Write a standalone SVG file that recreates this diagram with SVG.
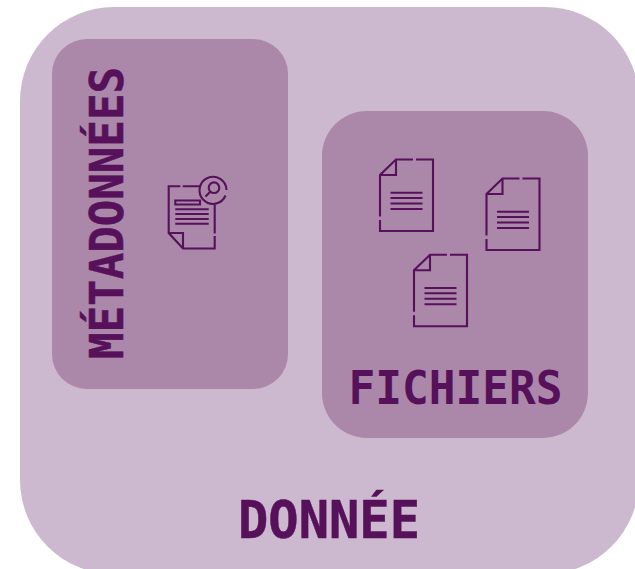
<svg xmlns="http://www.w3.org/2000/svg" width="635" height="569" viewBox="0 0 635 569">
<style>
.t{font-family:"DejaVu Sans Mono","Liberation Mono",monospace;font-weight:700;fill:#56115a;stroke:#56115a;stroke-width:.5}
.i{fill:none;stroke:#56115a;stroke-width:2.100}
</style>
<defs>
<g id="doc" class="i">
<path d="M413 159.500H396L380 175V216.500M380 220V231H433V159.500H416"/>
<path d="M380 175H396V159.500"/>
<path d="M390.500 192.700H422.500M390.500 198H422.500M390.500 203.500H422.500M390.500 209H422.500"/>
</g>
</defs>
<rect width="635" height="569" fill="#fff"/>
<g id="donnee"><rect x="20" y="7" width="619" height="567" rx="94" fill="#cdb9cf"/>
<text class="t" x="238" y="538" font-size="52" textLength="182" lengthAdjust="spacingAndGlyphs">DONNÉE</text></g>
<g id="metadonnees"><rect x="52" y="39" width="236" height="350" rx="35" fill="#ab87a9"/>
<text class="t" transform="translate(123 359) rotate(-90)" font-size="47" textLength="292" lengthAdjust="spacingAndGlyphs">MÉTADONNÉES</text>
<g class="i">
<path d="M180.300 186.300H168.700V233L183 248.500H214.700V236M214.700 233.500V205M200 186.300H182.700"/>
<path d="M168.700 233H183V248.500"/>
<path d="M175.300 200.500H200V204.500H175.300Z"/>
<path d="M175.300 209.300H208.700M175.300 214H208.700M175.300 219H208.700M175.300 223.700H208.700"/>
<path d="M226.500 190A13.500 13.500 0 1 0 225.500 195.500"/>
<circle cx="214" cy="187.700" r="5.300"/>
<path d="M210.500 191.500L205.500 196.500"/>
</g></g>
<g id="fichiers"><rect x="322" y="111" width="266" height="327" rx="45" fill="#ab87a9"/>
<text class="t" x="348.500" y="404" font-size="46" textLength="214" lengthAdjust="spacingAndGlyphs" style="stroke-width:0">FICHIERS</text>
<use href="#doc"/>
<use href="#doc" x="106.500" y="19"/>
<use href="#doc" x="34" y="95.300"/>
</g>
<g id="connectors"/>
</svg>
